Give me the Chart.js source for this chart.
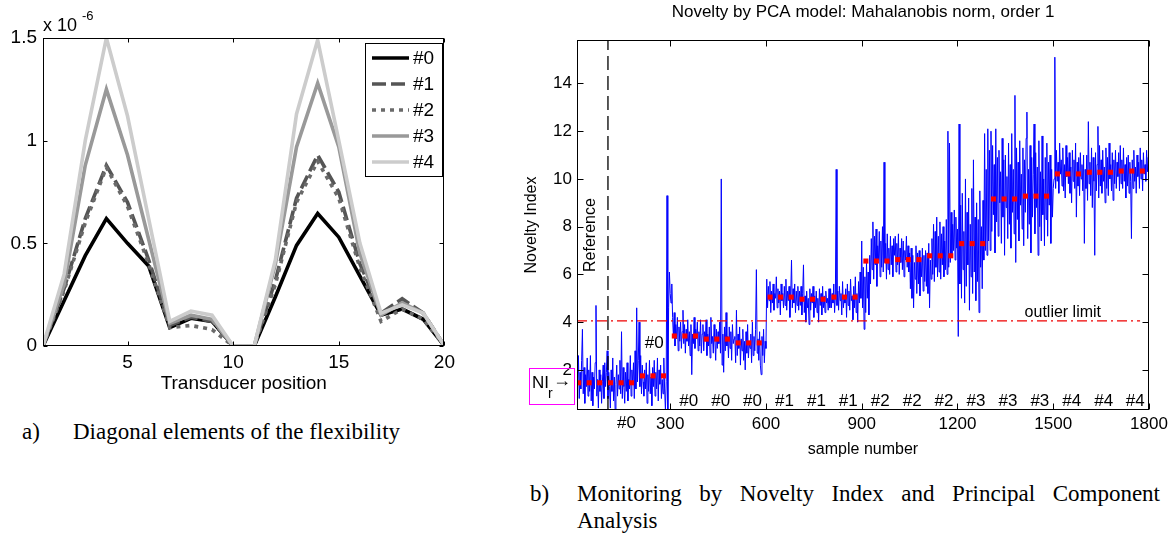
<!DOCTYPE html>
<html><head><meta charset="utf-8">
<script src="https://cdn.jsdelivr.net/npm/chart.js@4.4.1/dist/chart.umd.min.js"></script>
<style>
html,body{margin:0;padding:0;background:#fff;}
body{width:1174px;height:536px;overflow:hidden;position:relative;}
#c1{position:absolute;left:0;top:0;}
#c2{position:absolute;left:500px;top:0;}
.cap{position:absolute;font-family:"Liberation Serif","Times New Roman",serif;font-size:23px;color:#000;line-height:27px;white-space:nowrap;}
.capj{white-space:normal;text-align:justify;}
</style></head><body>
<canvas id="c1" width="460" height="400"></canvas>
<canvas id="c2" width="726" height="465"></canvas>
<div class="cap" style="left:22px;top:418px">a)</div>
<div class="cap" style="left:73px;top:418px">Diagonal elements of the flexibility</div>
<div class="cap" style="left:530px;top:480px">b)</div>
<div class="cap capj" style="left:577px;top:480px;width:583px">Monitoring by Novelty Index and Principal Component Analysis</div>
<script>
// ---------- Panel a) data ----------
const transducerPos = [1,2,3,4,5,6,7,8,9,10,11,12,13,14,15,16,17,18,19,20];
const flex0 = [0,0.22,0.44,0.62,0.50,0.39,0.09,0.135,0.12,0,0,0.24,0.49,0.645,0.53,0.34,0.15,0.18,0.13,0];
const flex1 = [0,0.28,0.62,0.88,0.70,0.42,0.10,0.14,0.12,0,0,0.32,0.72,0.93,0.75,0.40,0.16,0.23,0.16,0];
const flex2 = [0,0.27,0.60,0.87,0.68,0.40,0.09,0.10,0.08,0,0,0.30,0.70,0.90,0.72,0.38,0.12,0.18,0.13,0];
const flex3 = [0,0.30,0.88,1.25,0.93,0.52,0.11,0.15,0.13,0,0,0.40,0.97,1.28,0.97,0.45,0.15,0.21,0.16,0];
const flex4 = [0,0.35,1.00,1.50,1.12,0.62,0.12,0.17,0.15,0,0,0.42,1.13,1.49,1.00,0.50,0.16,0.20,0.16,0];
const seriesNames = ['#0','#1','#2','#3','#4'];
const xTicksA = [5,10,15,20];
const xTickLabelsA = ['5','10','15','20'];
const yTicksA = [0,0.5,1,1.5];
const yTickLabelsA = ['0','0.5','1','1.5'];

// ---------- Panel b) data ----------
const sampleStep = 2.5;
const noveltyIndex = [
 2.9,0.9,2.2,1.4,2.6,0.8,1.9,1.2,2.4,3.7,1.0,2.1,0.6,1.8,1.3,2.5,0.9,2.0,1.1,2.6,
 0.7,1.9,0.5,1.7,1.2,2.3,4.7,0.9,1.6,0.4,2.0,1.1,1.8,0.6,1.5,2.2,0.8,2.3,1.3,1.9,
 2.8,0.8,1.9,1.3,0.4,2.0,1.1,2.5,0.7,1.7,0.3,1.4,2.2,0.9,1.8,1.2,2.4,1.0,3.6,0.8,
 2.1,1.3,0.6,1.9,1.1,2.3,0.7,1.6,1.2,2.6,0.9,2.0,1.4,2.3,0.8,2.8,1.2,4.6,1.5,2.4,
 4.0,1.3,2.6,1.0,2.2,1.5,0.9,2.0,1.2,2.3,0.6,1.8,1.1,2.4,1.0,1.7,0.5,2.1,1.3,2.4,
 0.9,1.9,1.2,2.5,0.7,2.0,1.4,2.2,0.8,1.6,1.0,2.5,1.2,0.3,1.5,9.3,0.3,4.6,6.1,5.2,
 4.8,5.6,4.2,3.4,4.4,3.0,3.9,3.3,4.2,2.8,3.8,3.2,4.0,2.9,3.6,4.5,3.1,3.9,2.7,3.7,
 3.2,4.1,3.0,3.6,2.6,3.9,1.8,3.5,3.1,4.2,2.9,3.7,3.3,4.0,2.8,3.6,3.0,4.1,2.7,3.5,
 3.9,2.8,3.6,3.2,4.1,2.6,3.5,3.0,3.8,2.5,4.2,3.1,3.4,2.7,3.9,3.2,2.4,3.7,2.9,3.6,
 3.1,4.0,2.7,10.0,2.2,3.5,1.9,3.8,2.8,4.4,3.0,3.4,2.5,3.8,2.9,3.6,2.4,3.9,3.1,3.3,
 3.4,2.3,4.5,2.6,3.5,2.9,3.8,2.2,3.3,2.8,3.7,2.4,3.2,2.0,3.6,2.7,3.9,2.5,3.1,2.9,
 3.5,2.3,4.0,2.6,3.4,2.8,3.7,6.2,2.7,3.3,2.4,3.6,2.2,1.8,3.4,2.6,3.7,2.3,3.2,2.9,
 5.8,4.6,5.5,4.9,5.7,4.4,5.3,4.8,5.6,4.5,5.2,5.0,5.9,4.6,5.4,4.8,5.3,4.3,5.6,4.9,
 5.2,4.6,5.5,4.7,5.8,4.5,5.3,4.9,5.5,4.2,5.1,6.6,4.6,5.4,4.8,5.6,4.4,5.3,4.7,5.5,
 4.5,5.3,4.7,5.5,4.3,5.2,6.4,4.4,5.1,4.0,5.3,4.6,5.0,3.9,5.4,4.5,5.2,4.8,5.5,4.2,
 5.1,4.6,5.3,4.4,5.0,4.0,5.4,4.7,5.2,4.3,5.5,4.6,5.1,4.4,5.3,4.8,5.0,4.5,5.4,4.6,
 5.4,4.6,5.2,4.8,5.6,4.4,5.1,10.4,4.7,5.3,4.5,5.5,4.9,5.2,4.3,5.7,4.6,5.0,4.8,5.4,
 4.2,5.6,4.7,5.3,4.5,5.8,4.9,5.1,4.1,5.5,4.6,5.9,4.4,5.2,4.0,5.7,4.8,6.1,5.0,7.4,
 4.6,6.3,3.7,5.9,4.4,6.5,5.0,6.1,4.3,6.8,5.6,7.5,6.2,8.2,5.8,7.6,6.4,7.9,5.5,7.2,
 6.6,7.8,5.9,7.4,6.3,8.0,6.1,10.7,6.5,7.3,5.8,7.7,6.2,7.1,6.0,7.6,6.4,7.2,5.9,7.5,
 6.8,7.6,6.1,7.3,6.4,7.7,6.0,7.1,6.5,7.5,6.2,7.4,5.9,7.0,6.6,7.6,6.3,7.2,6.1,6.9,
 5.4,7.1,5.0,6.8,4.6,6.5,5.8,7.2,5.2,6.9,5.6,7.0,5.1,6.7,5.9,7.1,5.3,6.8,5.7,7.0,
 5.5,6.9,5.2,7.3,4.6,6.6,5.8,7.5,6.0,8.1,5.7,7.8,6.3,8.4,5.9,7.6,6.1,8.2,5.8,7.7,
 6.4,8.0,5.9,7.4,6.2,8.3,6.0,12.0,6.3,11.5,6.5,8.6,6.8,8.1,7.0,8.7,6.6,8.4,7.1,7.9,
 3.4,12.3,5.6,8.9,5.0,9.4,6.2,7.8,4.8,10.0,5.5,8.6,6.4,9.2,4.5,8.1,5.9,9.6,5.2,10.8,
 6.1,8.4,4.9,9.0,5.7,8.3,4.4,9.5,6.3,8.0,5.4,9.1,6.6,11.9,7.0,10.4,6.8,12.1,7.4,11.2,
 7.0,12.0,7.8,11.4,8.5,10.6,6.9,12.1,8.2,10.9,7.6,11.2,9.0,10.3,7.3,11.7,8.4,10.8,6.8,11.0,
 8.8,10.1,7.5,11.5,8.1,10.6,7.1,11.9,8.6,10.4,7.7,13.5,6.5,11.3,8.3,10.7,7.4,11.6,8.9,10.2,
 7.9,11.3,7.2,10.8,8.6,11.7,12.8,7.5,10.4,8.1,11.4,6.9,10.9,8.4,10.2,12.3,7.7,11.1,8.8,10.5,
 6.8,11.6,8.0,10.3,7.4,11.8,8.5,10.0,7.2,10.9,8.3,11.5,7.6,10.7,8.9,11.0,7.3,10.4,8.4,9.6,
 10.0,15.1,9.6,11.2,9.9,10.7,9.4,11.5,10.2,10.8,9.7,11.3,9.5,10.6,9.2,11.4,10.1,10.9,9.8,11.1,
 9.4,10.5,9.0,11.2,9.9,10.8,9.6,11.5,8.4,10.7,9.7,10.9,9.3,11.1,10.0,10.6,9.5,11.0,7.3,10.4,
 9.6,11.0,9.1,12.4,9.8,10.7,9.3,11.3,8.8,10.9,9.9,6.8,11.1,9.5,10.6,12.2,9.2,11.4,9.7,10.8,
 9.4,11.2,9.9,10.5,9.0,11.3,9.6,10.9,9.3,11.5,10.0,10.6,9.5,11.1,9.1,10.8,9.8,11.2,9.6,10.7,
 10.1,11.1,9.5,11.4,9.8,10.8,9.6,11.3,9.9,10.6,9.2,10.9,9.7,11.0,9.4,10.7,9.9,7.5,10.8,9.6,
 11.2,9.9,10.5,9.4,11.0,10.1,10.7,9.6,11.3,10.0,10.8,9.5,11.1,10.2,10.6,9.9,11.2,10.3,10.9,10.5
];
const groupStarts = [0,100,200,300,400,500,600,700,800,900,1000,1100,1200,1300,1400,1500,1600,1700];
const groupMeans = [1.46,1.46,1.75,3.42,3.29,3.13,5.05,4.96,5.05,6.56,6.62,6.78,7.29,9.16,9.28,10.21,10.28,10.33];
const markerOffsets = [13,46,79];
const groupLabels = ['#0','#0','#0','#1','#1','#1','#2','#2','#2','#3','#3','#3','#4','#4','#4'];
const groupLabelPos = [358,458,558,658,758,858,958,1058,1158,1258,1358,1458,1558,1658,1757];
const xTicksB = [300,600,900,1200,1500,1800];
const yTicksB = [2,4,6,8,10,12,14];
const xMinB = 8, xMaxB = 1800, yMinB = 0.32, yMaxB = 15.82;
const referenceSample = 105;
const outlierLimit = 4.05;
const outlierEnd = 1772;

const FONT = '"Liberation Sans", Arial, Helvetica, sans-serif';
Chart.defaults.font.family = FONT;

// ---------- Panel a) ----------
const styleA = [
  {c:'#000000', d:[], o:5},
  {c:'#555555', d:[14,5], o:4},
  {c:'#6a6a6a', d:[4,5], o:3},
  {c:'#999999', d:[], o:2},
  {c:'#cccccc', d:[], o:1}
];
const flexSeries = [flex0, flex1, flex2, flex3, flex4];

const frameA = {
  id:'frameA',
  afterDraw(chart){
    const {ctx, chartArea:a, scales:{x,y}} = chart;
    ctx.save();
    ctx.strokeStyle = '#000'; ctx.lineWidth = 1;
    const L = Math.round(a.left)+0.5, R = Math.round(a.right)-0.5, T = Math.round(a.top)+0.5, B = Math.round(a.bottom)-0.5;
    ctx.strokeRect(L, T, R-L, B-T);
    ctx.beginPath();
    xTicksA.forEach(v=>{ const p = Math.round(x.getPixelForValue(v))+0.5; ctx.moveTo(p,B); ctx.lineTo(p,B-4); ctx.moveTo(p,T); ctx.lineTo(p,T+4); });
    yTicksA.forEach(v=>{ const p = Math.round(y.getPixelForValue(v))+0.5; ctx.moveTo(L,p); ctx.lineTo(L+4,p); ctx.moveTo(R,p); ctx.lineTo(R-4,p); });
    ctx.stroke();
    ctx.fillStyle = '#000';
    ctx.textBaseline = 'alphabetic'; ctx.textAlign = 'left';
    ctx.font = '18px ' + FONT;
    ctx.fillText('x 10', 43, 31);
    ctx.font = '13px ' + FONT;
    ctx.fillText('-6', 82, 20);
    const bx = 365.5, by = 43.5, bw = 77, bh = 133;
    ctx.fillStyle = '#fff'; ctx.fillRect(bx, by, bw, bh);
    ctx.strokeStyle = '#000'; ctx.lineWidth = 1; ctx.strokeRect(bx, by, bw, bh);
    const rows = [58,84,110,136,162];
    chart.data.datasets.forEach((ds,i)=>{
      ctx.save();
      ctx.strokeStyle = ds.borderColor; ctx.lineWidth = ds.borderWidth; ctx.setLineDash(ds.borderDash||[]);
      ctx.beginPath(); ctx.moveTo(372, rows[i]); ctx.lineTo(409, rows[i]); ctx.stroke();
      ctx.restore();
      ctx.fillStyle = '#000'; ctx.font = '19px ' + FONT; ctx.textBaseline = 'middle';
      ctx.fillText(ds.label, 413, rows[i]+1);
    });
    ctx.restore();
  }
};

new Chart(document.getElementById('c1'), {
  type:'line',
  data:{ datasets: flexSeries.map((arr,i)=>({
    label: seriesNames[i],
    data: transducerPos.map((p,k)=>({x:p, y:arr[k]})),
    borderColor: styleA[i].c, borderWidth: 3.6, borderDash: styleA[i].d,
    pointRadius:0, tension:0, order: styleA[i].o, fill:false
  }))},
  options:{
    responsive:false, animation:false, devicePixelRatio:1,
    layout:{padding:{left:0,right:14,top:38,bottom:0}},
    plugins:{legend:{display:false}, tooltip:{enabled:false}, title:{display:false}},
    scales:{
      x:{type:'linear', min:1, max:20, grid:{display:false, drawTicks:false}, border:{display:false},
        afterBuildTicks:s=>{ s.ticks = xTicksA.map(v=>({value:v})); },
        afterFit:s=>{ s.height = 54; },
        ticks:{color:'#000', font:{size:19}, padding:5, maxRotation:0, autoSkip:false,
          callback:(v)=>xTickLabelsA[xTicksA.indexOf(v)]},
        title:{display:true, text:'Transducer position', color:'#000', font:{size:19}, padding:{top:0,bottom:5}}
      },
      y:{type:'linear', min:0, max:1.5, grid:{display:false, drawTicks:false}, border:{display:false},
        afterBuildTicks:s=>{ s.ticks = yTicksA.map(v=>({value:v})); },
        afterFit:s=>{ s.width = 43; },
        ticks:{color:'#000', font:{size:19}, padding:6, autoSkip:false,
          callback:(v)=>yTickLabelsA[yTicksA.indexOf(v)]}
      }
    }
  },
  plugins:[frameA]
});

// ---------- Panel b) ----------
const markers = [];
groupStarts.forEach((g,i)=>markerOffsets.forEach(o=>markers.push({x:g+o, y:groupMeans[i]})));

const frameB = {
  id:'frameB',
  afterDraw(chart){
    const {ctx, chartArea:a, scales:{x,y}} = chart;
    ctx.save();
    ctx.strokeStyle = '#000'; ctx.lineWidth = 1;
    const L = Math.round(a.left)+0.5, R = Math.round(a.right)-0.5, T = Math.round(a.top)+0.5, B = Math.round(a.bottom)-0.5;
    ctx.strokeRect(L, T, R-L, B-T);
    ctx.beginPath();
    xTicksB.forEach(v=>{ const p = Math.round(x.getPixelForValue(v))+0.5; ctx.moveTo(p,B); ctx.lineTo(p,B-6); ctx.moveTo(p,T); ctx.lineTo(p,T+6); });
    yTicksB.forEach(v=>{ const p = Math.round(y.getPixelForValue(v))+0.5; ctx.moveTo(L,p); ctx.lineTo(L+6,p); ctx.moveTo(R,p); ctx.lineTo(R-6,p); });
    ctx.stroke();
    ctx.fillStyle = '#000';
    ctx.font = '17px ' + FONT;
    ctx.textAlign = 'center'; ctx.textBaseline = 'middle';
    groupLabels.forEach((t,i)=>ctx.fillText(t, x.getPixelForValue(groupLabelPos[i]), y.getPixelForValue(0.70)));
    ctx.fillText('#0', x.getPixelForValue(250), y.getPixelForValue(3.13));
    ctx.fillText('#0', x.getPixelForValue(163), a.bottom + 13);
    ctx.font = '16px ' + FONT;
    ctx.fillText('outlier limit', x.getPixelForValue(1530), y.getPixelForValue(4.39));
    ctx.save();
    ctx.translate(x.getPixelForValue(52), y.getPixelForValue(7.65));
    ctx.rotate(-Math.PI/2);
    ctx.fillText('Reference', 0, 0);
    ctx.restore();
    ctx.strokeStyle = '#ff00ff'; ctx.lineWidth = 1;
    ctx.strokeRect(29.5, 368.5, 45, 36);
    ctx.textAlign = 'left'; ctx.textBaseline = 'alphabetic';
    ctx.font = '17px ' + FONT;
    ctx.fillText('NI', 32, 388);
    ctx.font = '14px ' + FONT;
    ctx.fillText('r', 48, 398);
    ctx.font = '18px ' + FONT;
    ctx.fillText('\u2192', 53, 386);
    ctx.restore();
  }
};

new Chart(document.getElementById('c2'), {
  type:'line',
  data:{ datasets:[
    {label:'Novelty Index', data: noveltyIndex.map((v,i)=>({x:(i+1)*sampleStep, y:v})),
      borderColor:'#0000ff', borderWidth:1, pointRadius:0, tension:0, order:4, clip:0},
    {label:'Reference', data:[{x:referenceSample,y:yMinB},{x:referenceSample,y:yMaxB}],
      borderColor:'#000000', borderWidth:1.3, borderDash:[14,6], pointRadius:0, order:3},
    {label:'outlier limit', data:[{x:xMinB,y:outlierLimit},{x:outlierEnd,y:outlierLimit}],
      borderColor:'#ee0000', borderWidth:1.3, borderDash:[10,4,2,4], pointRadius:0, order:2},
    {label:'mean', data: markers, showLine:false, pointStyle:'rect', pointRadius:3.6,
      pointBackgroundColor:'#ff0000', pointBorderWidth:0, borderColor:'#ff0000', order:1}
  ]},
  options:{
    responsive:false, animation:false, devicePixelRatio:1,
    layout:{padding:{left:0,right:0,top:0,bottom:0}},
    plugins:{legend:{display:false}, tooltip:{enabled:false},
      title:{display:true, text:'Novelty by PCA model: Mahalanobis norm, order 1', color:'#000',
        font:{size:17, weight:'normal'}, padding:{top:2,bottom:17.6}}},
    scales:{
      x:{type:'linear', min:xMinB, max:xMaxB, grid:{display:false, drawTicks:false}, border:{display:false},
        afterBuildTicks:s=>{ s.ticks = xTicksB.map(v=>({value:v})); },
        afterFit:s=>{ s.height = 55; },
        ticks:{color:'#000', font:{size:17}, padding:4, maxRotation:0, autoSkip:false, callback:v=>String(v)},
        title:{display:true, text:'sample number', color:'#000', font:{size:16}, padding:{top:0,bottom:5.4}}
      },
      y:{type:'linear', min:yMinB, max:yMaxB, grid:{display:false, drawTicks:false}, border:{display:false},
        afterBuildTicks:s=>{ s.ticks = yTicksB.map(v=>({value:v})); },
        afterFit:s=>{ s.width = 77; },
        ticks:{color:'#000', font:{size:17}, padding:5, autoSkip:false, callback:v=>String(v)},
        title:{display:true, text:'Novelty Index', color:'#000', font:{size:16}, padding:{top:22.4,bottom:0}}
      },
      y2:{type:'linear', position:'right', min:yMinB, max:yMaxB, grid:{display:false, drawTicks:false}, border:{display:false},
        ticks:{display:false}, afterFit:s=>{ s.width = 77; }}
    }
  },
  plugins:[frameB]
});
</script>
</body></html>
